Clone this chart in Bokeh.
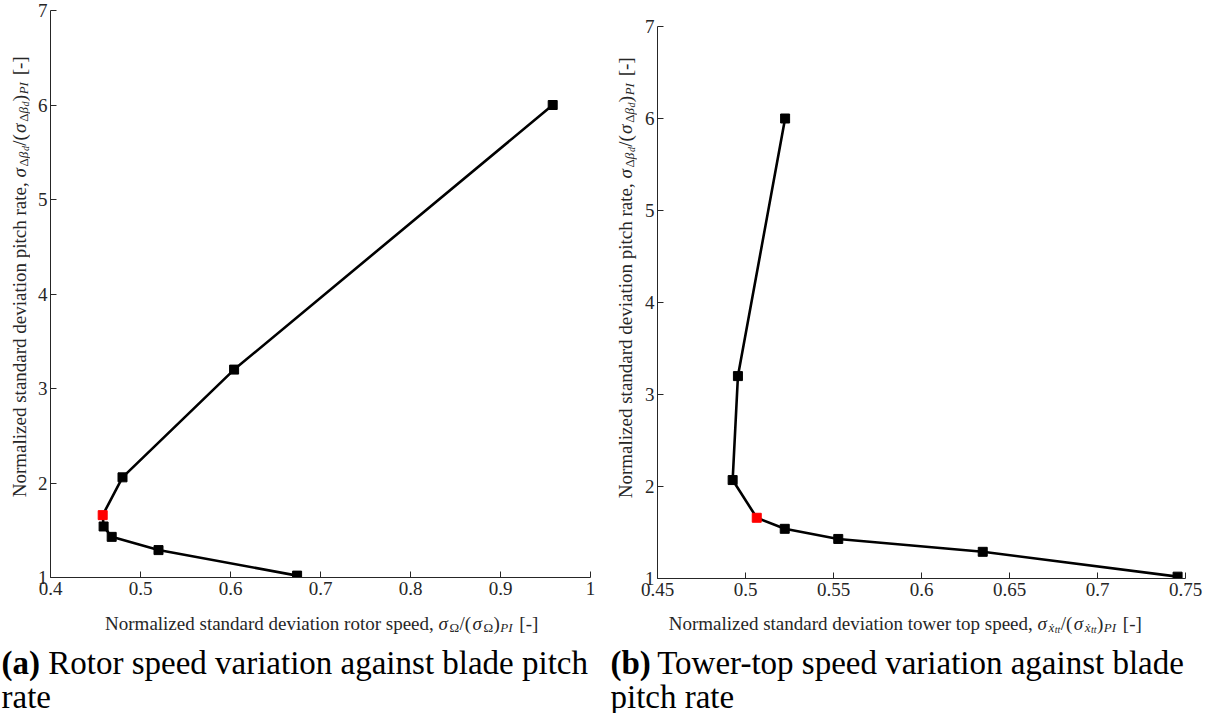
import math

from bokeh.embed import file_html
from bokeh.layouts import column, row
from bokeh.models import FixedTicker, Label, Range1d
from bokeh.plotting import figure
from bokeh.resources import INLINE

# Normalized std of pitch rate (vertical axis of both panels)
pitch_rate_a = [6.0, 3.2, 2.06, 1.66, 1.54, 1.43, 1.29, 1.02]
pitch_rate_b = [6.0, 3.2, 2.07, 1.66, 1.54, 1.43, 1.29, 1.02]
# Normalized std of rotor speed (panel a) and tower-top speed (panel b)
rotor_speed = [0.958, 0.604, 0.480, 0.458, 0.459, 0.468, 0.520, 0.674]
tower_speed = [0.5225, 0.4957, 0.4927, 0.5064, 0.5223, 0.5527, 0.6348, 0.7455]
# Tuning point that is highlighted in red
highlight_index = 3

x_ticks_a = [0.4, 0.5, 0.6, 0.7, 0.8, 0.9, 1.0]
x_tick_labels_a = ["0.4", "0.5", "0.6", "0.7", "0.8", "0.9", "1"]
x_ticks_b = [0.45, 0.5, 0.55, 0.6, 0.65, 0.7, 0.75]
x_tick_labels_b = ["0.45", "0.5", "0.55", "0.6", "0.65", "0.7", "0.75"]
y_ticks = [1, 2, 3, 4, 5, 6, 7]
y_tick_labels = ["1", "2", "3", "4", "5", "6", "7"]

SERIF = "Liberation Serif"
AXIS_GREY = "#262626"
TICK_SIZE = 19
TITLE_SIZE = 19
SUB_SIZE = 13
SUBSUB_SIZE = 10
SUB_SHIFT = -4
SUBSUB_SHIFT = -6
CAPTION_SIZE = 33
PLOT_HEIGHT = 605
TEXT_HEIGHT = 108
NBSP = "\u00a0"

# Approximate advance widths (em) for the short runs that follow a lead text
ADVANCE = {
    "σ": 0.58, "Ω": 0.77, "Δ": 0.64, "β": 0.55, "d": 0.52, "ẋ": 0.48,
    "t": 0.30, "/": 0.32, "(": 0.36, ")": 0.36, "P": 0.68, "I": 0.42,
    NBSP: 0.30, "[": 0.333, "-": 0.333, "]": 0.333,
}


def run_width(text, size):
    return size * sum(ADVANCE.get(c, 0.5) for c in text)


def text_canvas(width, height):
    """A bare figure whose frame is the whole canvas, used to hold labels."""
    p = figure(width=width, height=height, x_range=Range1d(0, width),
               y_range=Range1d(0, height), x_axis_location=None, y_axis_location=None,
               output_backend="svg", toolbar_location=None, min_border=0)
    p.outline_line_color = None
    p.grid.visible = False
    return p


def rich_text(p, x, y, lead, runs, angle=0.0, color=AXIS_GREY):
    """Lead text ends at (x, y); the runs (text, size, shift, style) follow it."""
    p.add_layout(Label(x=x, y=y, x_units="screen", y_units="screen", text=lead,
                       angle=angle, text_font=SERIF, text_font_size=f"{TITLE_SIZE}px",
                       text_align="right", text_baseline="alphabetic",
                       text_color=color))
    ca, sa = math.cos(angle), math.sin(angle)
    pos = 0.0
    for text, size, shift, style in runs:
        lx = x + pos * ca - shift * sa
        ly = y + pos * sa + shift * ca
        p.add_layout(Label(x=lx, y=ly, x_units="screen", y_units="screen", text=text,
                           angle=angle, text_font=SERIF, text_font_size=f"{size}px",
                           text_font_style=style, text_align="left",
                           text_baseline="alphabetic", text_color=color))
        pos += run_width(text, size)


def caption(p, x, y, tag, first_line, second_line):
    size = CAPTION_SIZE
    common = dict(x_units="screen", y_units="screen", text_font=SERIF,
                  text_font_size=f"{size}px", text_baseline="alphabetic",
                  text_color="black")
    p.add_layout(Label(x=x, y=y, text=tag, text_font_style="bold", **common))
    p.add_layout(Label(x=x + size * 1.166 + 0.25 * size, y=y,
                       text=first_line, **common))
    p.add_layout(Label(x=x, y=y - 34, text=second_line, **common))


def panel(xs, ys, x_range, x_ticks, x_labels, width, borders):
    left, right, top, bottom = borders
    p = figure(width=width, height=PLOT_HEIGHT, x_range=Range1d(*x_range),
               y_range=Range1d(1, 7), output_backend="svg", toolbar_location=None,
               min_border_left=left, min_border_right=right,
               min_border_top=top, min_border_bottom=bottom)
    p.outline_line_color = None
    p.grid.visible = False

    for ax, ticks, labels in ((p.xaxis, x_ticks, x_labels), (p.yaxis, y_ticks, y_tick_labels)):
        ax.ticker = FixedTicker(ticks=ticks, minor_ticks=[])
        ax.major_label_overrides = dict(zip(ticks, labels))
        ax.axis_line_color = AXIS_GREY
        ax.axis_line_width = 1
        ax.major_tick_line_color = AXIS_GREY
        ax.major_tick_in = 6
        ax.major_tick_out = 0
        ax.minor_tick_line_color = None
        ax.major_label_text_font = SERIF
        ax.major_label_text_font_size = f"{TICK_SIZE}px"
        ax.major_label_text_color = AXIS_GREY
    p.xaxis.major_label_standoff = 4
    p.yaxis.major_label_standoff = 3

    p.line(xs, ys, line_color="black", line_width=2.6)
    plain = [i for i in range(len(xs)) if i != highlight_index]
    p.scatter([xs[i] for i in plain], [ys[i] for i in plain], marker="square", size=9,
              fill_color="black", line_color="black")
    p.scatter([xs[highlight_index]], [ys[highlight_index]], marker="square", size=9,
              fill_color="#ff0000", line_color="#ff0000")
    return p


def math_runs(*parts):
    """parts: (text, level, style) with level 0 = base, 1 = subscript, 2 = sub-subscript."""
    sizes = {0: TITLE_SIZE, 1: SUB_SIZE, 2: SUBSUB_SIZE}
    shifts = {0: 0, 1: SUB_SHIFT, 2: SUBSUB_SHIFT}
    return [(t, sizes[lv], shifts[lv], st) for t, lv, st in parts]


unit = NBSP + "[-]"
pitch_runs = math_runs(("σ", 0, "italic"), ("Δ", 1, "normal"), ("β", 1, "italic"),
                       ("d", 2, "italic"), ("/(", 0, "normal"), ("σ", 0, "italic"),
                       ("Δ", 1, "normal"), ("β", 1, "italic"), ("d", 2, "italic"),
                       (")", 0, "normal"), ("PI", 1, "italic"), (unit, 0, "normal"))
rotor_runs = math_runs(("σ", 0, "italic"), ("Ω", 1, "normal"), ("/(", 0, "normal"),
                       ("σ", 0, "italic"), ("Ω", 1, "normal"), (")", 0, "normal"),
                       ("PI", 1, "italic"), (unit, 0, "normal"))
tower_runs = math_runs(("σ", 0, "italic"), ("ẋ", 1, "italic"), ("tt", 2, "italic"),
                       ("/(", 0, "normal"), ("σ", 0, "italic"), ("ẋ", 1, "italic"),
                       ("tt", 2, "italic"), (")", 0, "normal"), ("PI", 1, "italic"),
                       (unit, 0, "normal"))

# Panel (a): rotor speed against pitch rate
plot_a = panel(rotor_speed, pitch_rate_a, (0.4, 1.0), x_ticks_a, x_tick_labels_a,
               570, (20, 10, 10, 28))
ytitle_a = text_canvas(30, PLOT_HEIGHT)
rich_text(ytitle_a, 19, 400, "Normalized standard deviation pitch rate, ", pitch_runs,
          angle=math.pi / 2)
text_a = text_canvas(600, TEXT_HEIGHT)
rich_text(text_a, 438, 90, "Normalized standard deviation rotor speed, ", rotor_runs)
caption(text_a, 1, 51, "(a)", "Rotor speed variation against blade pitch", "rate")

# Panel (b): tower-top speed against pitch rate
plot_b = panel(tower_speed, pitch_rate_b, (0.45, 0.75), x_ticks_b, x_tick_labels_b,
               586, (20, 38, 26, 27))
ytitle_b = text_canvas(37, PLOT_HEIGHT)
rich_text(ytitle_b, 25, 400, "Normalized standard deviation pitch rate, ", pitch_runs,
          angle=math.pi / 2)
text_b = text_canvas(623, TEXT_HEIGHT)
rich_text(text_b, 437, 90, "Normalized standard deviation tower top speed, ", tower_runs)
caption(text_b, 10, 51, "(b)", "Tower-top speed variation against blade", "pitch rate")

layout = row(column(row(ytitle_a, plot_a), text_a),
             column(row(ytitle_b, plot_b), text_b))
open("out.html", "w").write(file_html(layout, INLINE))
